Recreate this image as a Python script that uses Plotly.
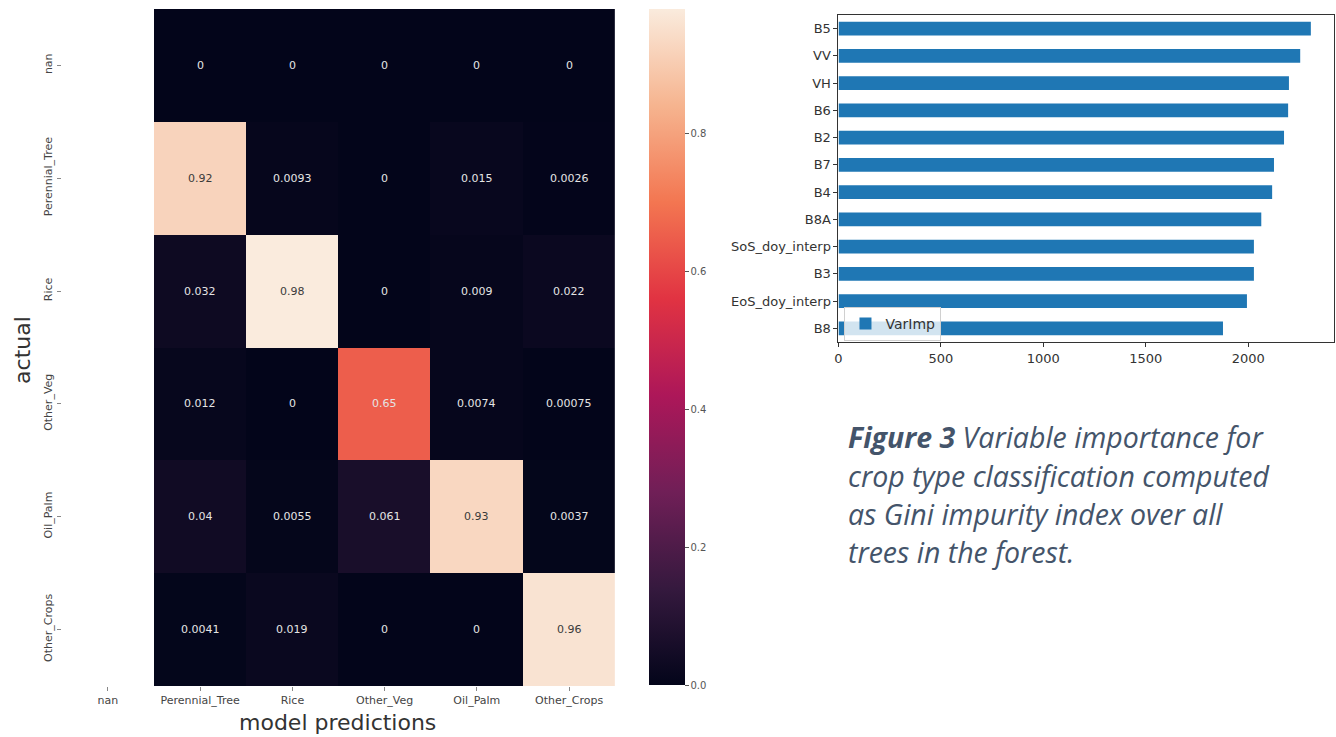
import plotly.graph_objects as go

# ---------------- data ----------------
pred_labels = ["nan", "Perennial_Tree", "Rice", "Other_Veg", "Oil_Palm", "Other_Crops"]
actual_labels = ["nan", "Perennial_Tree", "Rice", "Other_Veg", "Oil_Palm", "Other_Crops"]
# rows = actual, columns = predictions (first column "nan" is empty)
row_nan = [None, 0, 0, 0, 0, 0]
row_perennial = [None, 0.92, 0.0093, 0, 0.015, 0.0026]
row_rice = [None, 0.032, 0.98, 0, 0.009, 0.022]
row_otherveg = [None, 0.012, 0, 0.65, 0.0074, 0.00075]
row_oilpalm = [None, 0.04, 0.0055, 0.061, 0.93, 0.0037]
row_othercrops = [None, 0.0041, 0.019, 0, 0, 0.96]
cm = [row_nan, row_perennial, row_rice, row_otherveg, row_oilpalm, row_othercrops]

var_names = ["B5", "VV", "VH", "B6", "B2", "B7", "B4", "B8A",
             "SoS_doy_interp", "B3", "EoS_doy_interp", "B8"]
var_imp = [2306, 2254, 2199, 2195, 2175, 2126, 2117, 2064, 2028, 2028, 1994, 1877]

cbar_ticks = [0.0, 0.2, 0.4, 0.6, 0.8]
imp_ticks = [0, 500, 1000, 1500, 2000]

caption_lines = [
    "<b>Figure 3</b> Variable importance for",
    "crop type classification computed",
    "as Gini impurity index over all",
    "trees in the forest.",
]

# ---------------- styling ----------------
W, H = 1336, 737
def fx(px):
    return px / W
def fy(py):
    return 1 - py / H

rocket = [
    [0.0, "#03051a"],
    [1 / 7, "#35193e"],
    [2 / 7, "#701f57"],
    [3 / 7, "#ad1759"],
    [4 / 7, "#e13342"],
    [5 / 7, "#f37651"],
    [6 / 7, "#f6b48f"],
    [1.0, "#faebdd"],
]
zmax = max(v for r in cm for v in r if v is not None)

fig = go.Figure()

fig.add_trace(go.Heatmap(
    z=cm, x=pred_labels, y=actual_labels,
    colorscale=rocket, zmin=0, zmax=zmax,
    xaxis="x", yaxis="y",
    hoverongaps=False,
    colorbar=dict(
        x=fx(647), xanchor="left", xpad=0,
        y=fy(9), yanchor="top", ypad=0,
        len=(685 - 9) / H, lenmode="fraction",
        thickness=36, thicknessmode="pixels",
        outlinewidth=0,
        tickvals=cbar_ticks, ticktext=[f"{t:.1f}" for t in cbar_ticks],
        ticks="outside", ticklen=4, tickcolor="#555",
        tickfont=dict(family="DejaVu Sans", size=10, color="#555"),
    ),
))

# cell annotations
for i, row in enumerate(cm):
    for j, v in enumerate(row):
        if v is None:
            continue
        light = (v / zmax) > 0.8
        fig.add_annotation(
            x=pred_labels[j], y=actual_labels[i], xref="x", yref="y",
            text=format(v, ".2g"), showarrow=False,
            font=dict(family="DejaVu Sans", size=11,
                      color="#3a3a3a" if light else "#e4e4e4"),
        )

fig.add_trace(go.Bar(
    x=var_imp, y=var_names, orientation="h", width=0.5,
    marker=dict(color="#1f77b4", line=dict(width=0)),
    name="VarImp", xaxis="x2", yaxis="y2", showlegend=True,
))

tickfont_hm = dict(family="DejaVu Sans", size=11, color="#444")
tickfont_bar = dict(family="DejaVu Sans", size=13, color="#333")

fig.update_layout(
    width=W, height=H,
    margin=dict(l=0, r=0, t=0, b=0),
    paper_bgcolor="white", plot_bgcolor="white",
    showlegend=True,
    xaxis=dict(
        domain=[fx(58), fx(613)], anchor="y",
        ticks="outside", ticklen=4, tickcolor="#888",
        tickfont=tickfont_hm, showgrid=False, zeroline=False,
        showline=False, fixedrange=True,
    ),
    yaxis=dict(
        domain=[fy(686), fy(9)], anchor="x",
        autorange="reversed", tickangle=-90,
        ticks="outside", ticklen=4, tickcolor="#888",
        tickfont=tickfont_hm, showgrid=False, zeroline=False,
        showline=False, fixedrange=True,
    ),
    xaxis2=dict(
        domain=[fx(837), fx(1334)], anchor="y2",
        range=[0, 2419], tickvals=imp_ticks,
        ticks="outside", ticklen=4, tickcolor="#333",
        tickfont=tickfont_bar, showgrid=False, zeroline=False,
        showline=True, mirror=True, linecolor="#333", linewidth=1,
    ),
    yaxis2=dict(
        domain=[fy(342), fy(15)], anchor="x2",
        range=[len(var_names) - 0.5, -0.5],
        ticks="outside", ticklen=4, tickcolor="#333",
        tickfont=tickfont_bar, showgrid=False, zeroline=False,
        showline=True, mirror=True, linecolor="#333", linewidth=1,
    ),
    legend=dict(
        x=fx(843), y=fy(307), xanchor="left", yanchor="top",
        bgcolor="rgba(255,255,255,0.8)", bordercolor="#d0d0d0", borderwidth=1,
        font=dict(family="DejaVu Sans", size=14, color="#333"),
        itemwidth=30,
    ),
)

# axis titles
fig.add_annotation(
    x=fx(18), y=fy(350), xref="paper", yref="paper",
    xanchor="center", yanchor="middle",
    text="actual", textangle=-90, showarrow=False,
    font=dict(family="DejaVu Sans", size=22, color="#333"),
)
fig.add_annotation(
    x=fx(335), y=fy(722), xref="paper", yref="paper",
    xanchor="center", yanchor="middle",
    text="model predictions", showarrow=False,
    font=dict(family="DejaVu Sans", size=22, color="#333"),
)

# caption
caption_y = [437, 475.5, 514, 552]
for line, cy in zip(caption_lines, caption_y):
    fig.add_annotation(
        x=fx(845), y=fy(cy), xref="paper", yref="paper",
        xanchor="left", yanchor="middle",
        text=f"<i>{line}</i>", showarrow=False,
        font=dict(family="Open Sans", size=28.5, color="#44546A"),
    )

fig.write_html("out.html",
               config={"displayModeBar": False},
               post_script="document.body.style.margin='0';document.body.style.overflow='hidden';")
